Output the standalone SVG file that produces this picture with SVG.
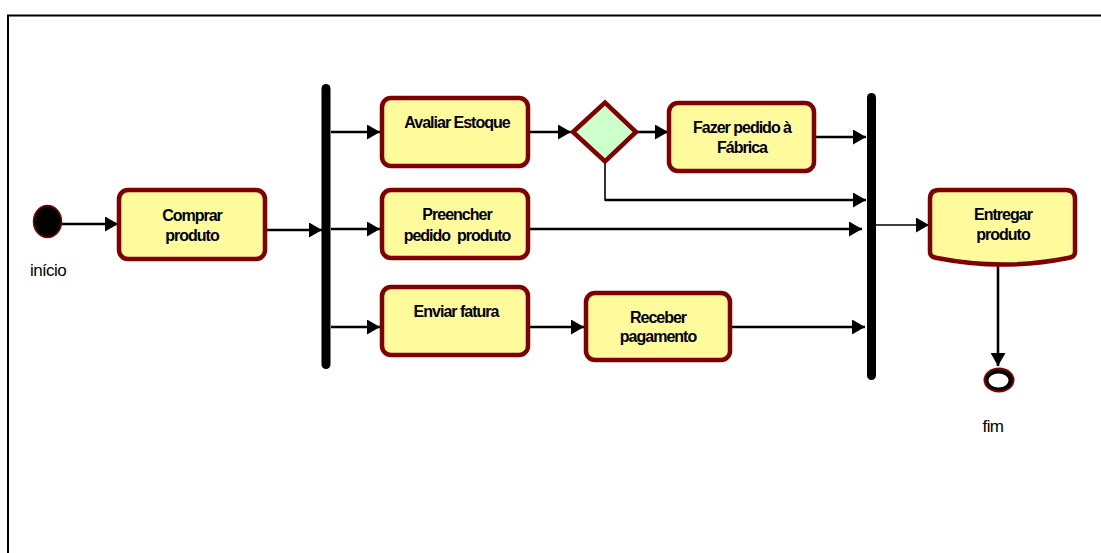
<svg xmlns="http://www.w3.org/2000/svg" width="1101" height="553" viewBox="0 0 1101 553">
  <defs>
    <style>
      .frame { fill: none; stroke: #000; stroke-width: 2; }
      .act { fill: #FFFB9C; stroke: #800000; stroke-width: 4.5; }
      .dec { fill: #CCFFCC; stroke: #800000; stroke-width: 4.5; stroke-linejoin: miter; }
      .bar { fill: #000; }
      .edge { fill: none; stroke: #000; stroke-width: 2.6; }
      .thin { fill: none; stroke: #000; stroke-width: 1.6; }
      .lbl { font-family: "Liberation Sans", Arial, sans-serif; font-size: 16px; font-weight: bold; letter-spacing: -1px; fill: #000; text-anchor: middle; }
      .cap { font-family: "Liberation Sans", Arial, sans-serif; font-size: 17px; letter-spacing: -0.6px; fill: #000; text-anchor: middle; }
    </style>
    <marker id="arrow" markerUnits="userSpaceOnUse" markerWidth="14" markerHeight="15" refX="13" refY="7.5" orient="auto">
      <path d="M0,0 L13,7.5 L0,15 Z" fill="#000"/>
    </marker>
  </defs>

  <rect width="1101" height="553" fill="#fff"/>
  <!-- diagram frame -->
  <path class="frame" d="M8,553 V15.5 H1101"/>

  <!-- connectors -->
  <g id="connectors">
    <line class="edge" x1="62" y1="224" x2="118" y2="224" marker-end="url(#arrow)"/>
    <line class="edge" x1="267" y1="230" x2="322" y2="230" marker-end="url(#arrow)"/>
    <line class="edge" x1="331" y1="132" x2="380" y2="132" marker-end="url(#arrow)"/>
    <line class="edge" x1="331" y1="229" x2="380" y2="229" marker-end="url(#arrow)"/>
    <line class="edge" x1="331" y1="327" x2="380" y2="327" marker-end="url(#arrow)"/>
    <line class="edge" x1="530" y1="132" x2="571" y2="132" marker-end="url(#arrow)"/>
    <line class="edge" x1="637" y1="132" x2="668" y2="132" marker-end="url(#arrow)"/>
    <polyline class="thin" points="605,162 605,200 620,200"/>
    <line class="edge" x1="605" y1="200" x2="866" y2="200" marker-end="url(#arrow)"/>
    <line class="edge" x1="816" y1="137" x2="866" y2="137" marker-end="url(#arrow)"/>
    <line class="edge" x1="530" y1="229" x2="862" y2="229" marker-end="url(#arrow)"/>
    <line class="edge" x1="530" y1="327" x2="584" y2="327" marker-end="url(#arrow)"/>
    <line class="edge" x1="732" y1="327" x2="865" y2="327" marker-end="url(#arrow)"/>
    <line class="thin" x1="876" y1="225" x2="929" y2="225" marker-end="url(#arrow)"/>
    <line class="edge" x1="998" y1="265" x2="998" y2="366" marker-end="url(#arrow)"/>
  </g>

  <!-- initial node -->
  <g id="inicio">
    <ellipse cx="47.5" cy="221.5" rx="14" ry="16" fill="#000" stroke="#800000" stroke-width="1.5"/>
    <text class="cap" x="48" y="276">início</text>
  </g>

  <g id="comprar">
    <rect class="act" x="119" y="190" width="146" height="69" rx="9"/>
    <text class="lbl" x="192" y="221">Comprar</text>
    <text class="lbl" x="192" y="241">produto</text>
  </g>

  <!-- fork bar -->
  <g id="fork">
    <rect class="bar" x="321.5" y="84" width="9" height="285" rx="4.5"/>
  </g>

  <g id="avaliar">
    <rect class="act" x="382" y="98" width="146" height="68" rx="9"/>
    <text class="lbl" x="457" y="128">Avaliar Estoque</text>
  </g>

  <g id="decisao">
    <polygon class="dec" points="573,132 605,102.5 636,132 605,161.5"/>
  </g>

  <g id="fazer">
    <rect class="act" x="669" y="103" width="145" height="68" rx="9"/>
    <text class="lbl" x="742" y="133">Fazer pedido à</text>
    <text class="lbl" x="742" y="153">Fábrica</text>
  </g>

  <g id="preencher">
    <rect class="act" x="382" y="190" width="146" height="68" rx="9"/>
    <text class="lbl" x="457" y="220">Preencher</text>
    <text class="lbl" x="457" y="241">pedido&#160; produto</text>
  </g>

  <g id="enviar">
    <rect class="act" x="382" y="287" width="146" height="68" rx="9"/>
    <text class="lbl" x="456" y="317">Enviar fatura</text>
  </g>

  <g id="receber">
    <rect class="act" x="586" y="293" width="144" height="67" rx="9"/>
    <text class="lbl" x="658" y="323">Receber</text>
    <text class="lbl" x="658" y="342">pagamento</text>
  </g>

  <!-- join bar -->
  <g id="join">
    <rect class="bar" x="867" y="93" width="9" height="287" rx="4.5"/>
  </g>

  <g id="entregar">
    <path class="act" d="M930,199 Q930,190 939,190 H1066 Q1075,190 1075,199 V252 Q1075,257 1068,258 Q1003,271 937,258 Q930,257 930,252 Z"/>
    <text class="lbl" x="1003" y="220">Entregar</text>
    <text class="lbl" x="1003" y="240">produto</text>
  </g>

  <!-- final node -->
  <g id="fim">
    <ellipse cx="999" cy="380" rx="15.5" ry="12.5" fill="#800000"/>
    <ellipse cx="999" cy="380" rx="13.5" ry="10.5" fill="#000"/>
    <ellipse cx="998.5" cy="380.5" rx="10" ry="7" fill="#fff"/>
    <text class="cap" x="993" y="432">fim</text>
  </g>
</svg>
